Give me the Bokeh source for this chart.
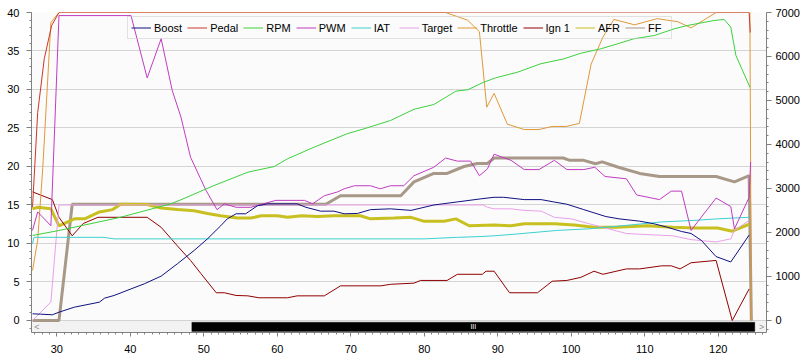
from bokeh.plotting import figure
from bokeh.models import (Range1d, LinearAxis, SingleIntervalTicker, Legend, LegendItem,
                          BoxAnnotation, Label)
from bokeh.embed import file_html
from bokeh.resources import INLINE

# ---------------- data ----------------
boost_x = [26.7, 27.8, 29.4, 30.3, 32.4, 35.8, 36.5, 37.8, 40.1, 41.9, 44.2, 46.4, 48.7, 50.5, 52.3, 53.2,
           54.4, 55.7, 57.3, 58.7, 62.7, 63.9, 65.9, 67.7, 69.1, 70.9, 72.7, 75.4, 78.2, 81.3, 84.5, 87.7,
           89.5, 90.8, 93.6, 95.9, 97.6, 99.4, 101.7, 104.7, 106.5, 109.3, 111.3, 113.1, 115.0, 116.3,
           117.7, 119.7, 121.7, 124.2]
boost_y = [0.87, 0.82, 0.74, 1.08, 1.73, 2.38, 2.9, 3.25, 4.1, 4.76, 5.76, 7.36, 9.1, 10.6, 12.3, 13.2,
           13.86, 13.86, 14.9, 15.15, 15.15, 14.7, 14.2, 14.2, 13.86, 13.9, 14.4, 14.5, 14.3, 15.0, 15.4, 15.8,
           16.0, 16.0, 15.7, 15.7, 15.4, 15.1, 14.4, 13.5, 13.2, 12.9, 12.55, 12.1, 11.56, 11.3,
           10.4, 8.3, 7.6, 11.1]

pedal_x = [26.7, 27.4, 28.3, 29.3, 30.3, 124.2, 124.35]
pedal_y = [14.7, 27.0, 34.0, 38.3, 40.0, 40.0, 37.4]

rpm_x = [26.7, 30.3, 38.7, 45.5, 46.9, 51.4, 56.0, 59.6, 61.4, 65.0, 69.5, 71.8, 75.4, 78.6, 81.3, 84.3,
         85.9, 88.1, 89.7, 92.7, 95.8, 99.0, 101.3, 104.0, 106.3, 108.5, 111.3, 114.0, 115.8, 119.4,
         120.8, 121.7, 122.4, 124.3]
rpm_y = [1932, 2045, 2347, 2651, 2744, 3068, 3371, 3500, 3675, 3939, 4244, 4357, 4545, 4800, 4909, 5212,
         5243, 5416, 5515, 5644, 5833, 5947, 6074, 6174, 6288, 6402, 6477, 6629, 6705, 6818,
         6841, 6667, 6023, 5303]

pwm_x = [26.7, 27.4, 29.2, 30.3, 40.1, 42.3, 44.2, 45.7, 46.9, 48.2, 50.3, 51.8, 52.8, 54.4, 56.4, 59.8,
         63.7, 64.8, 66.4, 68.2, 69.1, 70.5, 72.7, 74.0, 75.4, 77.2, 78.6, 81.3, 82.9, 84.5, 86.3, 87.5,
         88.6, 89.5, 91.8, 93.6, 95.6, 97.7, 99.4, 101.7, 103.2, 104.6, 107.5, 108.9, 112.0, 113.6,
         115.0, 116.3, 119.7, 121.7, 122.2, 124.2, 124.4]
pwm_y = [11.7, 14.1, 12.3, 39.6, 39.6, 31.5, 36.6, 29.9, 26.4, 21.2, 16.9, 14.4, 15.15, 14.7, 14.7, 15.6,
         15.6, 15.15, 16.2, 16.7, 17.1, 17.5, 17.5, 17.1, 17.5, 17.5, 18.8, 19.9, 21.1, 20.7, 20.7, 18.8,
         19.7, 21.6, 20.8, 19.6, 19.6, 20.8, 19.6, 19.6, 19.9, 18.7, 18.4, 16.3, 15.7, 16.8,
         16.8, 11.7, 15.9, 14.8, 11.9, 16.0, 20.6]

iat_x = [26.7, 26.9, 36.4, 37.8, 80.0, 84.5, 87.7, 89.5, 92.2, 98.1, 102.3, 106.9, 112.3, 116.7, 119.9, 124.2]
iat_y = [9.96, 10.8, 10.8, 10.6, 10.6, 10.8, 10.9, 11.0, 11.2, 11.7, 11.9, 12.3, 12.8, 13.0, 13.2, 13.4]

target_x = [26.7, 29.2, 30.3, 88.0, 88.6, 89.5, 91.8, 93.6, 95.9, 97.7, 100.0, 102.3, 104.7, 107.5, 109.3,
            113.8, 116.3, 119.7, 121.7, 122.2, 124.2]
target_y = [0.0, 2.4, 15.0, 15.0, 14.7, 14.5, 14.5, 14.3, 14.2, 13.4, 13.2, 12.6, 12.0, 11.3, 11.2,
            11.0, 10.5, 10.2, 10.6, 11.7, 13.0]

throttle_x = [26.7, 27.4, 28.1, 29.2, 30.3, 82.9, 85.9, 87.5, 88.5, 89.5, 91.3, 93.6, 95.6, 97.4, 99.3,
              101.1, 102.7, 104.3, 105.8, 108.6, 111.7, 114.5, 116.3, 119.7, 124.3, 124.5]
throttle_y = [6.5, 10.4, 19.9, 38.7, 40.0, 40.0, 39.0, 37.5, 27.7, 29.5, 25.5, 24.8, 24.8, 25.2, 25.2,
              25.6, 33.3, 36.8, 39.1, 38.4, 39.2, 38.8, 38.0, 40.0, 40.0, 0.0]

ign_x = [26.7, 29.4, 30.3, 32.1, 33.6, 35.6, 42.3, 44.2, 46.4, 48.2, 49.6, 51.7, 52.8, 54.4, 56.0, 57.5,
         61.4, 62.7, 66.4, 68.6, 74.1, 75.4, 78.6, 79.5, 83.1, 84.5, 87.9, 88.4, 89.5, 91.6, 95.4, 97.4,
         99.4, 101.3, 103.1, 104.3, 107.5, 109.3, 112.3, 113.6, 114.8, 116.3, 119.7, 121.9, 124.2]
ign_y = [16.7, 15.7, 13.4, 11.0, 12.6, 13.4, 13.4, 12.1, 9.7, 7.8, 6.1, 3.6, 3.6, 3.25, 3.2, 2.95,
         2.95, 3.2, 3.2, 4.5, 4.5, 4.7, 4.85, 5.2, 5.2, 6.0, 6.0, 6.4, 6.4, 3.6, 3.6, 5.1,
         5.2, 5.6, 6.4, 6.0, 6.7, 6.7, 7.1, 7.1, 6.7, 7.5, 7.8, 0.0, 4.1]

afr_x = [26.7, 27.4, 29.2, 30.3, 32.4, 33.8, 35.8, 37.6, 38.7, 42.3, 44.2, 46.4, 48.7, 50.5, 52.3, 54.6,
         56.4, 57.8, 60.0, 61.4, 63.3, 65.5, 67.7, 71.3, 72.7, 75.9, 78.2, 79.9, 82.7, 84.3, 86.1, 89.5,
         91.8, 93.6, 97.7, 100.4, 103.1, 106.2, 110.3, 113.8, 116.7, 119.9, 121.9, 124.2]
afr_y = [14.5, 14.7, 14.5, 12.3, 13.2, 13.2, 14.1, 14.4, 15.1, 15.06, 14.6, 14.4, 14.25, 13.9, 13.6, 13.3,
         13.3, 13.6, 13.6, 13.4, 13.6, 13.5, 13.6, 13.6, 13.2, 13.3, 13.4, 12.9, 12.9, 13.2, 12.3, 12.4,
         12.3, 12.55, 12.55, 12.4, 12.1, 12.1, 12.3, 12.1, 12.0, 12.0, 11.6, 12.5]

ff_x = [26.7, 30.3, 32.1, 66.6, 68.6, 76.8, 78.6, 81.3, 83.1, 85.4, 87.2, 88.6, 89.5, 98.9, 99.8, 101.7,
        103.3, 104.2, 106.4, 109.3, 112.0, 119.7, 122.2, 124.2, 124.5]
ff_y = [0.0, 0.0, 15.1, 15.1, 16.2, 16.2, 18.0, 19.1, 19.1, 20.0, 20.4, 20.4, 21.1, 21.1, 20.8, 20.8,
        20.35, 20.6, 19.9, 19.1, 18.7, 18.7, 18.0, 18.8, 0.0]

series_names = ["Boost", "Pedal", "RPM", "PWM", "IAT", "Target", "Throttle", "Ign 1", "AFR", "FF"]
left_ticks_interval = 5
right_ticks_interval = 1000
x_ticks_interval = 10

# ---------------- styling ----------------
FONT = "Liberation Sans"
colors = {
    "Boost": "#101080", "Pedal": "#c83828", "RPM": "#3cd03c", "PWM": "#c03cc0",
    "IAT": "#3cd0d0", "Target": "#e8a0e8", "Throttle": "#e09838", "Ign 1": "#900000",
    "AFR": "#c8c020", "FF": "#a89888",
}
widths = {"AFR": 3, "FF": 3}

X0, X1 = 26.56, 126.56
Y0, Y1 = -1.56, 40.0
R_SCALE = 7000 / 40.0

p = figure(width=807, height=362, x_range=Range1d(X0, X1), y_range=Range1d(Y0, Y1),
           output_backend="svg", toolbar_location=None,
           min_border_left=31, min_border_right=41, min_border_top=12, min_border_bottom=30,
           border_fill_color="white")
p.background_fill_color = "#fbfbfb"
p.outline_line_color = None
p.extra_y_ranges = {"rpm": Range1d(Y0 * R_SCALE, Y1 * R_SCALE)}

for ax in [p.xaxis[0], p.yaxis[0]]:
    ax.axis_line_color = "#808080"
    ax.major_tick_line_color = "#808080"
    ax.minor_tick_line_color = "#808080"
    ax.major_label_text_font = FONT
    ax.major_label_text_font_size = "11px"
    ax.major_label_text_color = "black"

p.xaxis.ticker = SingleIntervalTicker(interval=x_ticks_interval, num_minor_ticks=10)
p.xaxis.major_tick_out = 4
p.xaxis.major_tick_in = 0
p.xaxis.minor_tick_out = 2
p.xaxis.minor_tick_in = 0
p.xaxis.major_label_standoff = 8

p.yaxis.ticker = SingleIntervalTicker(interval=left_ticks_interval, num_minor_ticks=5)
p.yaxis.major_tick_out = 5
p.yaxis.major_tick_in = 0
p.yaxis.minor_tick_out = 2
p.yaxis.minor_tick_in = 0
p.yaxis.major_label_standoff = 7

ry = LinearAxis(y_range_name="rpm", ticker=SingleIntervalTicker(interval=right_ticks_interval, num_minor_ticks=5))
ry.axis_line_color = "#808080"
ry.major_tick_line_color = "#808080"
ry.minor_tick_line_color = "#808080"
ry.major_tick_out = 5
ry.major_tick_in = 0
ry.minor_tick_out = 2
ry.minor_tick_in = 0
ry.major_label_standoff = 4
ry.major_label_text_font = FONT
ry.major_label_text_font_size = "11px"
ry.major_label_text_color = "black"
p.add_layout(ry, "right")

p.xgrid.visible = False
p.ygrid.ticker = SingleIntervalTicker(interval=left_ticks_interval)
p.ygrid.grid_line_color = "#d4d4d4"

# scrollbar (UI decoration below the data area)
p.add_layout(BoxAnnotation(bottom=Y0, top=0, fill_color="#f2f2f2", fill_alpha=1,
                           line_color="#b0b0b0", line_width=1, level="underlay"))
p.add_layout(BoxAnnotation(left=48.37, right=124.97, bottom=-1.43, top=-0.22,
                           fill_color="black", fill_alpha=1, line_color="black"))
p.add_layout(Label(x=(48.37 + 124.97) / 2, y=-0.83, text="III", text_color="white",
                   text_font=FONT, text_font_size="7px", text_align="center", text_baseline="middle"))
p.add_layout(Label(x=27.3, y=-0.83, text="<", text_color="#909090",
                   text_font=FONT, text_font_size="9px", text_align="center", text_baseline="middle"))
p.add_layout(Label(x=125.9, y=-0.83, text=">", text_color="#909090",
                   text_font=FONT, text_font_size="9px", text_align="center", text_baseline="middle"))

data = {
    "Boost": (boost_x, boost_y), "Pedal": (pedal_x, pedal_y), "RPM": (rpm_x, rpm_y),
    "PWM": (pwm_x, pwm_y), "IAT": (iat_x, iat_y), "Target": (target_x, target_y),
    "Throttle": (throttle_x, throttle_y), "Ign 1": (ign_x, ign_y), "AFR": (afr_x, afr_y),
    "FF": (ff_x, ff_y),
}

# first series in the list is drawn on top (drawn last)
legend_renderers = {}
for name in reversed(series_names):
    xs, ys = data[name]
    kw = {}
    if name == "RPM":
        kw["y_range_name"] = "rpm"
    if name in widths:
        # thin copy underneath the thick line, used for the (thin) legend swatch
        legend_renderers[name] = p.line(xs, ys, line_color=colors[name], line_width=1)
        p.line(xs, ys, line_color=colors[name], line_width=widths[name])
    else:
        legend_renderers[name] = p.line(xs, ys, line_color=colors[name], line_width=1, **kw)

items = [LegendItem(label=name, renderers=[legend_renderers[name]]) for name in series_names]

legend = Legend(items=items, orientation="horizontal", location=(96, 293),
                glyph_width=20, glyph_height=15, label_height=15, label_standoff=3,
                spacing=5, padding=3, margin=0,
                label_text_font=FONT, label_text_font_size="11px", label_text_color="black",
                border_line_color="#c8c8c8", border_line_width=1,
                background_fill_alpha=0.0)
p.add_layout(legend)

open("out.html", "w").write(file_html(p, INLINE))
